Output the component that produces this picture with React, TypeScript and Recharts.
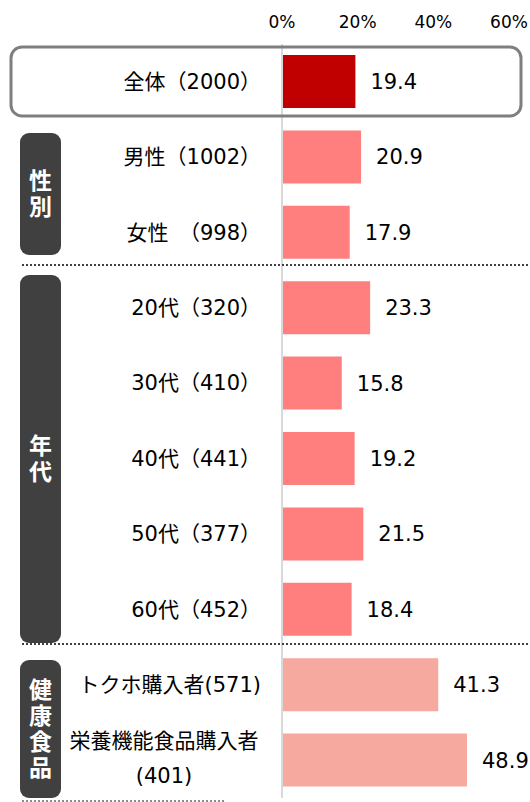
import React from "react";
import { BarChart, Bar, XAxis, YAxis, Cell, LabelList } from "recharts";

const categories = [
  "全体（2000）",
  "男性（1002）",
  "女性　（998）",
  "20代（320）",
  "30代（410）",
  "40代（441）",
  "50代（377）",
  "60代（452）",
  "トクホ購入者(571)",
  "栄養機能食品購入者\n(401)",
];
const values = [19.4, 20.9, 17.9, 23.3, 15.8, 19.2, 21.5, 18.4, 41.3, 48.9];
const groups = ["total", "sex", "sex", "age", "age", "age", "age", "age", "health", "health"];
const xTicks = [0, 20, 40, 60];

const groupColors: Record<string, string> = {
  total: "#C00000",
  sex: "#FF7F7F",
  age: "#FF7F7F",
  health: "#F6A99E",
};

// side boxes (vertical labels)
const groupBoxes = [
  { text: "性別", y: 133, h: 122 },
  { text: "年代", y: 275, h: 368 },
  { text: "健康食品", y: 660, h: 138 },
];
const dividers = [
  { y: 265, x1: 22, x2: 530, color: "#404040" },
  { y: 644, x1: 22, x2: 530, color: "#404040" },
  { y: 801, x1: 22, x2: 225, color: "#8c8c8c" },
];

const W = 530;
const H = 802;
const FONT = '"DejaVu Sans", "Noto Sans CJK JP", sans-serif';

const data = categories.map((c, i) => ({ name: c, value: values[i], group: groups[i] }));

function CatTick(props: any) {
  const { x, y, payload } = props;
  const lines = String(payload.value).split("\n");
  if (lines.length > 1) {
    const cx = x - 97;
    return (
      <text x={cx} y={y} textAnchor="middle" fontSize={21} fontFamily={FONT} fill="#000">
        <tspan x={cx} dy={-12}>{lines[0]}</tspan>
        <tspan x={cx} dy={35}>{lines[1]}</tspan>
      </text>
    );
  }
  return (
    <text x={x} y={y} dy={7} textAnchor="end" fontSize={21} fontFamily={FONT} fill="#000">
      {lines[0]}
    </text>
  );
}

export default function App() {
  return (
    <div style={{ position: "absolute", left: 0, top: 0, width: W, height: H, background: "#fff" }}>
      <BarChart
        width={W}
        height={H}
        data={data}
        layout="vertical"
        margin={{ top: 14, right: 21, bottom: 4, left: 0 }}
        barCategoryGap={11}
      >
        <XAxis
          type="number"
          orientation="top"
          domain={[0, 60]}
          ticks={xTicks}
          tickFormatter={(v: number) => `${v}%`}
          axisLine={false}
          tickLine={false}
          height={30}
          tickMargin={10}
          interval={0}
          tick={{ fontSize: 17, fill: "#000", fontFamily: FONT }}
        />
        <YAxis
          type="category"
          dataKey="name"
          width={282}
          tickLine={false}
          tickMargin={15}
          axisLine={{ stroke: "#D9D9D9", strokeWidth: 2 }}
          interval={0}
          tick={<CatTick />}
        />
        <Bar dataKey="value" barSize={53} isAnimationActive={false}>
          {data.map((d, i) => (
            <Cell key={i} fill={groupColors[d.group]} />
          ))}
          <LabelList
            dataKey="value"
            position="right"
            offset={15}
            fill="#000"
            fontSize={21}
            fontFamily={FONT}
            formatter={(v: number) => v.toFixed(1)}
          />
        </Bar>
      </BarChart>
      <svg
        width={W}
        height={H}
        style={{ position: "absolute", left: 0, top: 0, pointerEvents: "none" }}
      >
        <rect x={11} y={47} width={510} height={69} rx={11} fill="none" stroke="#7F7F7F" strokeWidth={3} />
        {dividers.map((d, i) => (
          <line key={i} x1={d.x1} x2={d.x2} y1={d.y} y2={d.y} stroke={d.color} strokeWidth={2} strokeDasharray="2 2" />
        ))}
        {groupBoxes.map((b, i) => {
          const chars = b.text.split("");
          const step = 26;
          const start = b.y + b.h / 2 - ((chars.length - 1) * step) / 2;
          return (
            <g key={i}>
              <rect x={20} y={b.y} width={41} height={b.h} rx={9} fill="#404040" />
              {chars.map((ch, j) => (
                <text
                  key={j}
                  x={40.5}
                  y={start + j * step}
                  dy={8}
                  textAnchor="middle"
                  fontSize={23}
                  fontWeight="bold"
                  fontFamily={FONT}
                  fill="#fff"
                >
                  {ch}
                </text>
              ))}
            </g>
          );
        })}
      </svg>
    </div>
  );
}
